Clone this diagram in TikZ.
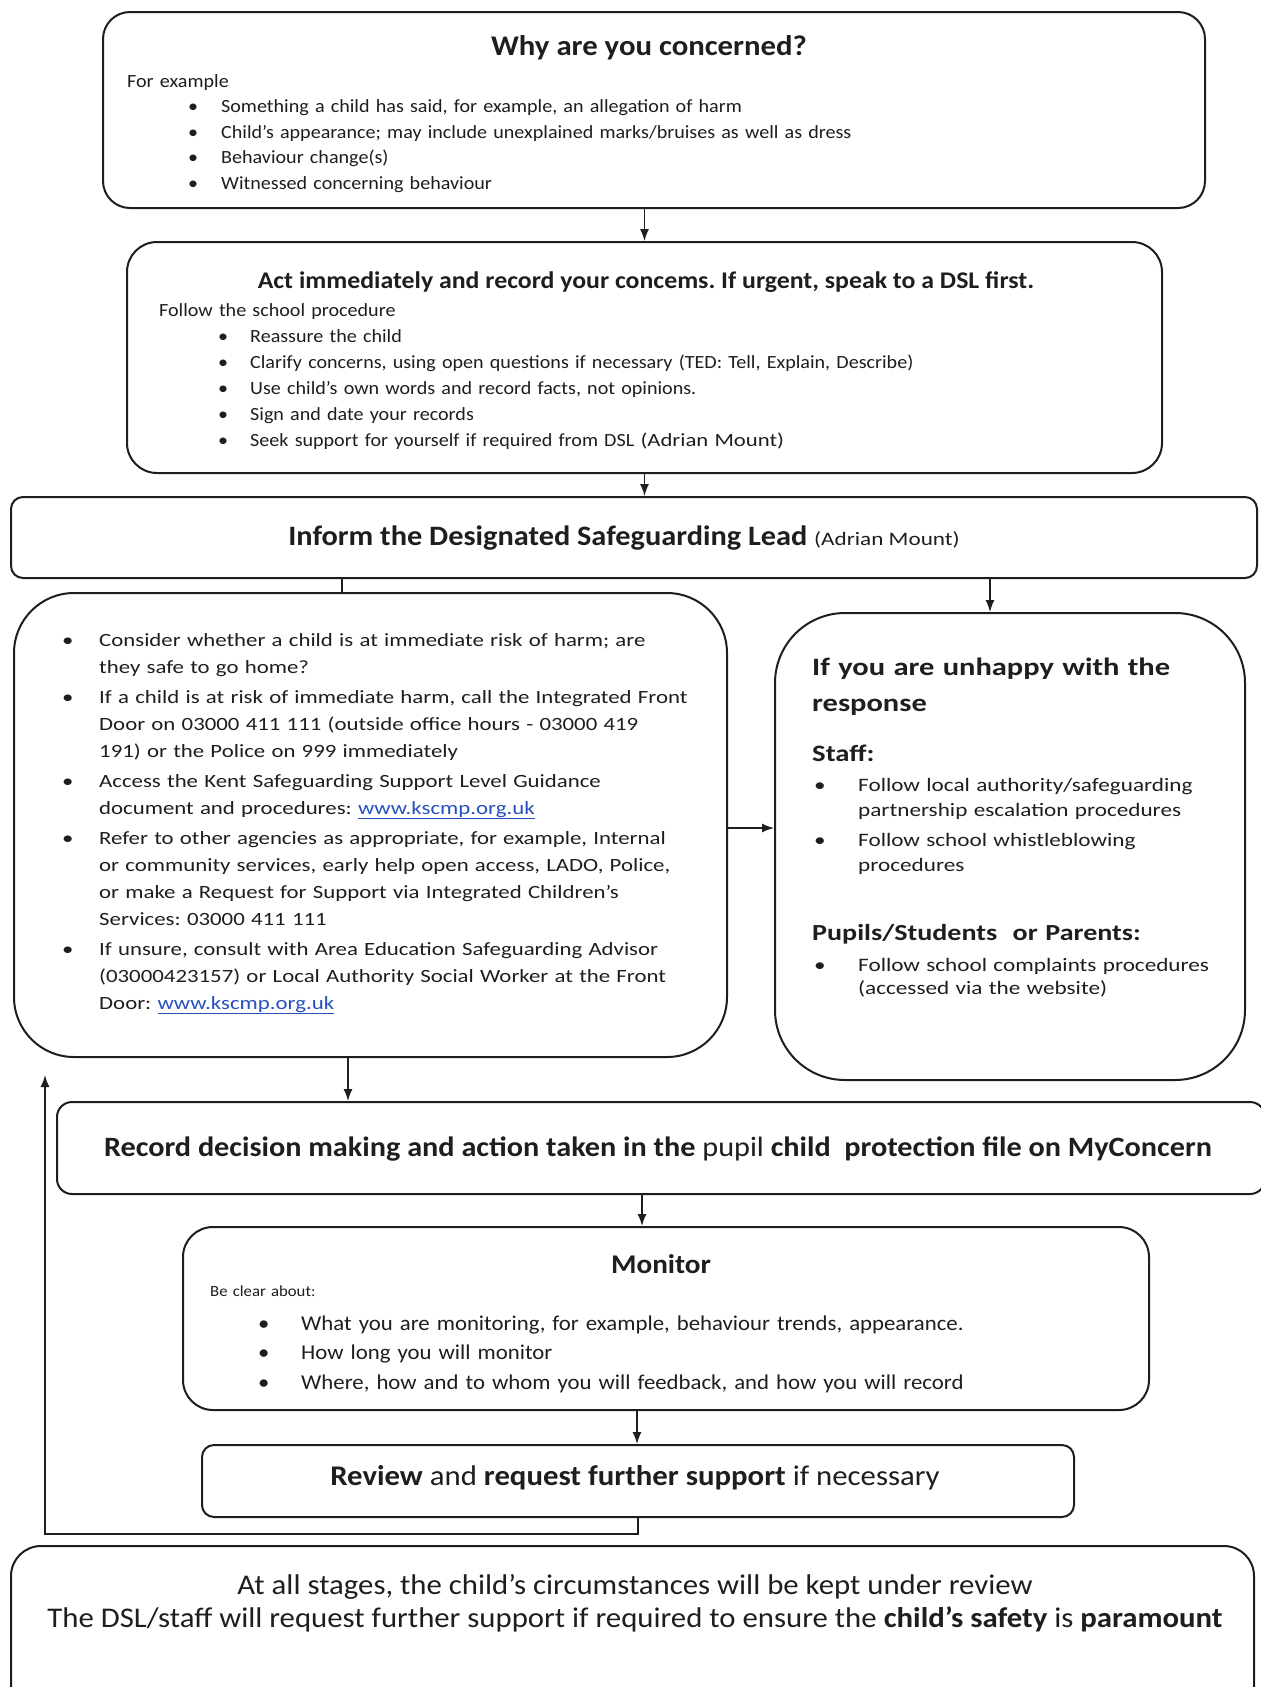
\documentclass[tikz,border=0pt]{standalone}
\usepackage{fontspec}
\setmainfont{Carlito}[FakeStretch=1.08]
\newfontfamily\widefont{Carlito}[FakeStretch=1.22,Ligatures=TeX]
\usepackage{xcolor}
\usetikzlibrary{arrows.meta}
\usetikzlibrary{fit}
\frenchspacing

\definecolor{inkgray}{RGB}{30,30,30}
\definecolor{linkblue}{RGB}{40,80,190}
\newcommand{\fsz}[2]{\fontsize{#1}{#2}\selectfont}
\newcommand{\bul}[2]{\hspace*{#1pt}\makebox[#2pt][l]{\textbullet}}
\newcommand{\ind}[1]{\hspace*{#1pt}}
\newcommand{\weblink}{\textcolor{linkblue}{\underline{www.kscmp.org.uk}}}

\begin{document}
\begin{tikzpicture}[x=1pt,y=-1pt,
  box/.style={draw=inkgray,line width=2pt,inner sep=0pt},
  ttl/.style={inner sep=0pt,text=inkgray},
  txt/.style={anchor=base west,inner sep=0pt,align=left,text width=#1,text=inkgray},
  txt/.default=1150pt,
  arr/.style={draw=inkgray,line width=1.4pt,-{Latex[length=12pt,width=9pt]}},
  link/.style={draw=inkgray,line width=1.4pt}]
\path[use as bounding box,fill=white] (0,0) rectangle (1261,1687);
\clip (0,0) rectangle (1261,1687);

% boxes
\node[box,rounded corners=27pt,fit={(103,12) (1205,208)}] (why) {};
\node[box,rounded corners=30pt,fit={(127,242) (1162,473)}] (act) {};
\node[box,rounded corners=12pt,fit={(11,497) (1257,578)}] (inform) {};
\node[box,rounded corners=60pt,fit={(14,593) (727,1057)}] (check) {};
\node[box,rounded corners=70pt,fit={(775,613) (1245,1080)}] (unhappy) {};
\node[box,rounded corners=15pt,fit={(57,1102) (1265,1194)}] (record) {};
\node[box,rounded corners=30pt,fit={(183,1227) (1149,1410)}] (monitor) {};
\node[box,rounded corners=12pt,fit={(202,1445) (1074,1517)}] (review) {};
\node[box,rounded corners=30pt,fit={(11,1546) (1254,1720)}] (stages) {};

% why are you concerned
\node[ttl,font=\fsz{28.5}{34}\bfseries] (whyTitle) at (649,48) {Why are you concerned?};
\node[txt,font=\fsz{18.6}{25.5}] (whyList) at (127,87) {For example\\
\bul{61}{33}Something a child has said, for example, an allegation of harm\\
\bul{61}{33}Child's appearance; may include unexplained marks/bruises as well as dress\\
\bul{61}{33}Behaviour change(s)\\
\bul{61}{33}Witnessed concerning behaviour};

% act immediately
\node[ttl,font=\fsz{23.9}{29}\bfseries] (actTitle) at (646,282) {Act immediately and record your concems. If urgent, speak to a DSL first.};
\node[txt,font=\fsz{18.6}{25.8}] (actList) at (159,316) {Follow the school procedure\\[1pt]
\bul{59}{32}Reassure the child\\
\bul{59}{32}Clarify concerns, using open questions if necessary (TED: Tell, Explain, Describe)\\
\bul{59}{32}Use child's own words and record facts, not opinions.\\
\bul{59}{32}Sign and date your records\\
\bul{59}{32}Seek support for yourself if required from DSL {\widefont(Adrian Mount)}};

% inform the DSL
\node[ttl,font=\fsz{28.1}{33}\bfseries] (informText) at (624,538) {Inform the Designated Safeguarding Lead {\widefont\mdseries\fsz{19}{23}(Adrian Mount)}};

% left column
\node[txt,font=\widefont\fsz{18.7}{27}] (checkList) at (62,646) {\bul{0}{37}Consider whether a child is at immediate risk of harm; are\\
\ind{37}they safe to go home?\\[3pt]
\bul{0}{37}If a child is at risk of immediate harm, call the Integrated Front\\
\ind{37}Door on 03000 411 111 (outside office hours - 03000 419\\
\ind{37}191) or the Police on 999 immediately\\[3pt]
\bul{0}{37}Access the Kent Safeguarding Support Level Guidance\\
\ind{37}document and procedures: \weblink\\[3pt]
\bul{0}{37}Refer to other agencies as appropriate, for example, Internal\\
\ind{37}or community services, early help open access, LADO, Police,\\
\ind{37}or make a Request for Support via Integrated Children's\\
\ind{37}Services: 03000 411 111\\[3pt]
\bul{0}{37}If unsure, consult with Area Education Safeguarding Advisor\\
\ind{37}(03000423157) or Local Authority Social Worker at the Front\\
\ind{37}Door: \weblink};

% right column
\node[txt,font=\widefont\fsz{25}{36}\bfseries] (unhappyTitle) at (812,675) {If you are unhappy with the\\response};
\node[txt,font=\widefont\fsz{23.5}{28}\bfseries] (staffHead) at (812,761) {Staff:};
\node[txt,font=\widefont\fsz{19}{25}] (staffList) at (814,791) {\bul{0}{44}Follow local authority/safeguarding\\
\ind{44}partnership escalation procedures\\[5pt]
\bul{0}{44}Follow school whistleblowing\\
\ind{44}procedures};
\node[txt,font=\widefont\fsz{23}{28}\bfseries] (pupilHead) at (812,940) {Pupils/Students\ \ or Parents:};
\node[txt,font=\widefont\fsz{19}{23}] (pupilList) at (814,971) {\bul{0}{44}Follow school complaints procedures\\
\ind{44}(accessed via the website)};

% record
\node[ttl,font=\fsz{28}{34}\bfseries] (recordText) at (658,1149) {Record decision making and action taken in the {\mdseries pupil} child\ \ protection file on MyConcern};

% monitor
\node[ttl,font=\fsz{27}{32}\bfseries] (monitorTitle) at (661,1264) {Monitor};
\node[txt,font=\fsz{15.5}{20}] (monitorIntro) at (210,1296) {Be clear about:};
\node[txt,font=\fsz{21.1}{29.5}] (monitorList) at (258,1330) {\bul{0}{43}What you are monitoring, for example, behaviour trends, appearance.\\
\bul{0}{43}How long you will monitor\\
\bul{0}{43}Where, how and to whom you will feedback, and how you will record};

% review
\node[ttl,font=\fsz{28.5}{34}] (reviewText) at (635,1478) {\textbf{Review} and \textbf{request further support} if necessary};

% all stages
\node[ttl,font=\fsz{28.5}{33},align=center] (stagesText) at (635,1603) {At all stages, the child's circumstances will be kept under review\\
The DSL/staff will request further support if required to ensure the \textbf{child's safety} is \textbf{paramount}};

% connectors
\coordinate (colA) at (342,0);
\coordinate (colB) at (990,0);
\coordinate (colC) at (348,0);
\coordinate (colD) at (642,0);
\coordinate (colE) at (637,0);
\coordinate (rowA) at (0,828);
\coordinate (loopEnd) at (45,1075);
\draw[arr] (act.north |- why.south) -- (act.north);
\draw[arr] (act.south) -- (act.south |- inform.north);
\draw[link] (colA |- inform.south) -- (colA |- check.north);
\draw[arr] (colB |- inform.south) -- (colB |- unhappy.north);
\draw[arr] (check.east |- rowA) -- (unhappy.west |- rowA);
\draw[arr] (colC |- check.south) -- (colC |- record.north);
\draw[arr] (colD |- record.south) -- (colD |- monitor.north);
\draw[arr] (colE |- monitor.south) -- (colE |- review.north);
\draw[arr] (review.south) -- ++(0,16) -| (loopEnd);
\end{tikzpicture}
\end{document}
